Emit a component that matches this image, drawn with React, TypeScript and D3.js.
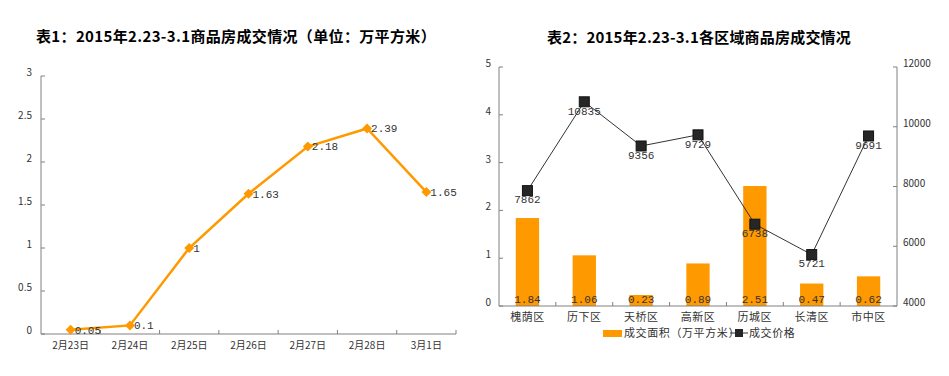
import React from "react";
import * as d3 from "d3";

const dates = ["2月23日", "2月24日", "2月25日", "2月26日", "2月27日", "2月28日", "3月1日"];
const areaByDay = [0.05, 0.1, 1, 1.63, 2.18, 2.39, 1.65];
const yTicks1 = [0, 0.5, 1, 1.5, 2, 2.5, 3];

const districts = ["槐荫区", "历下区", "天桥区", "高新区", "历城区", "长清区", "市中区"];
const areaByDistrict = [1.84, 1.06, 0.23, 0.89, 2.51, 0.47, 0.62];
const priceByDistrict = [7862, 10835, 9356, 9729, 6738, 5721, 9691];
const yTicksLeft = [0, 1, 2, 3, 4, 5];
const yTicksRight = [4000, 6000, 8000, 10000, 12000];

const title1 = "表1：2015年2.23-3.1商品房成交情况（单位：万平方米）";
const title2 = "表2：2015年2.23-3.1各区域商品房成交情况";
const legendBar = "成交面积（万平方米）";
const legendLine = "成交价格";

const ORANGE = "#FF9900";
const AXIS = "#808080";
const TXT = "#333";
const FONT = "'Noto Sans CJK SC', sans-serif";
const MONO = "'Liberation Mono', 'DejaVu Sans Mono', monospace";

function Chart1() {
  const x0 = 41, x1 = 456, yTop = 76, yBot = 334;
  const x = d3.scaleBand().domain(dates).range([x0, x1]);
  const y = d3.scaleLinear().domain([0, 3]).range([yBot, yTop]);
  const pts = dates.map((d, i) => [x(d)! + x.bandwidth() / 2, y(areaByDay[i])] as [number, number]);
  const line = d3.line()(pts);
  const bounds = d3.range(dates.length + 1).map((i) => x0 + i * x.step());
  return (
    <g>
      <text x={236} y={42} textAnchor="middle" fontSize={15} fontWeight="bold" fontFamily={FONT} letterSpacing={0.35} fill="#000">{title1}</text>
      <line x1={x0} x2={x0} y1={yTop} y2={yBot} stroke={AXIS} />
      <line x1={x0} x2={x1} y1={yBot} y2={yBot} stroke={AXIS} />
      {yTicks1.map((t) => (
        <g key={t}>
          <line x1={x0} x2={x0 + 4} y1={y(t)} y2={y(t)} stroke={AXIS} />
          <text x={x0 - 9} y={y(t)} dy="0" textAnchor="end" fontSize={10} fontFamily={FONT} fill={TXT}>{t}</text>
        </g>
      ))}
      {bounds.slice(1).map((b, i) => (
        <line key={i} x1={b} x2={b} y1={yBot} y2={yBot - 4} stroke={AXIS} />
      ))}
      {dates.map((d) => (
        <text key={d} x={x(d)! + x.bandwidth() / 2} y={349} textAnchor="middle" fontSize={10} fontFamily={FONT} fill={TXT}>{d}</text>
      ))}
      <path d={line!} fill="none" stroke={ORANGE} strokeWidth={2.5} />
      {pts.map(([px, py], i) => (
        <g key={i}>
          <path d={`M${px},${py - 5}L${px + 5},${py}L${px},${py + 5}L${px - 5},${py}Z`} fill={ORANGE} />
          <text x={px + 4} y={py} dy="0.35em" fontSize={11} fontFamily={MONO} fill={TXT}>{areaByDay[i]}</text>
        </g>
      ))}
    </g>
  );
}

function Chart2() {
  const x0 = 499, x1 = 897, yTop = 67, yBot = 306;
  const xs = d3.scaleBand().domain(districts).range([x0, x1]);
  const yL = d3.scaleLinear().domain([0, 5]).range([yBot, yTop]);
  const yR = d3.scaleLinear().domain([4000, 12000]).range([yBot, yTop]);
  const cx = (d: string) => xs(d)! + xs.bandwidth() / 2;
  const pts = districts.map((d, i) => [cx(d), yR(priceByDistrict[i])] as [number, number]);
  const line = d3.line()(pts);
  const bounds = d3.range(districts.length + 1).map((i) => x0 + i * xs.step());
  const bw = xs.bandwidth() * 0.41;
  return (
    <g>
      <text x={699} y={43} textAnchor="middle" fontSize={15} fontWeight="bold" fontFamily={FONT} letterSpacing={0.2} fill="#000">{title2}</text>
      {districts.map((d, i) => (
        <g key={d}>
          <rect x={cx(d) - bw / 2} y={yL(areaByDistrict[i])} width={bw} height={yBot - yL(areaByDistrict[i])} fill={ORANGE} />
          <text x={cx(d)} y={299} dy="0.35em" textAnchor="middle" fontSize={11} fontFamily={MONO} fill={TXT}>{areaByDistrict[i]}</text>
        </g>
      ))}
      <line x1={x0} x2={x0} y1={yTop} y2={yBot} stroke={AXIS} />
      <line x1={x1} x2={x1} y1={yTop} y2={yBot} stroke={AXIS} />
      <line x1={x0} x2={x1} y1={yBot} y2={yBot} stroke={AXIS} />
      {yTicksLeft.map((t) => (
        <g key={t}>
          <line x1={x0} x2={x0 + 4} y1={yL(t)} y2={yL(t)} stroke={AXIS} />
          <text x={x0 - 8} y={yL(t)} dy="0" textAnchor="end" fontSize={10} fontFamily={FONT} fill={TXT}>{t}</text>
        </g>
      ))}
      {yTicksRight.map((t) => (
        <g key={t}>
          <line x1={x1} x2={x1 - 4} y1={yR(t)} y2={yR(t)} stroke={AXIS} />
          <text x={x1 + 6} y={yR(t)} dy="0" textAnchor="start" fontSize={10} fontFamily={FONT} fill={TXT}>{t}</text>
        </g>
      ))}
      {bounds.slice(1, -1).map((b, i) => (
        <line key={i} x1={b} x2={b} y1={yBot} y2={yBot - 4} stroke={AXIS} />
      ))}
      {districts.map((d) => (
        <text key={d} x={cx(d)} y={321} textAnchor="middle" fontSize={11} fontFamily={FONT} letterSpacing={0.5} fill={TXT}>{d}</text>
      ))}
      <path d={line!} fill="none" stroke="#333" strokeWidth={1} />
      {pts.map(([px, py], i) => (
        <g key={i}>
          <rect x={px - 5} y={py - 5} width={10} height={10} fill="#262626" stroke="#111" />
          <text x={px} y={py + 9} dy="0.35em" textAnchor="middle" fontSize={11} fontFamily={MONO} fill={TXT}>{priceByDistrict[i]}</text>
        </g>
      ))}
      <g>
        <rect x={603} y={330} width={19} height={7} fill={ORANGE} />
        <text x={624} y={333} dy="0.35em" fontSize={11} fontFamily={FONT} letterSpacing={0.6} fill={TXT}>{legendBar}</text>
        <line x1={730} x2={748} y1={333} y2={333} stroke="#333" />
        <rect x={735} y={329} width={8} height={8} fill="#262626" />
        <text x={749} y={333} dy="0.35em" fontSize={11} fontFamily={FONT} letterSpacing={0.6} fill={TXT}>{legendLine}</text>
      </g>
    </g>
  );
}

export default function App() {
  return (
    <svg width={949} height={376} style={{ display: "block", position: "absolute", left: 0, top: 0, background: "#fff" }}>
      <rect width={949} height={376} fill="#fff" />
      <Chart1 />
      <Chart2 />
    </svg>
  );
}
